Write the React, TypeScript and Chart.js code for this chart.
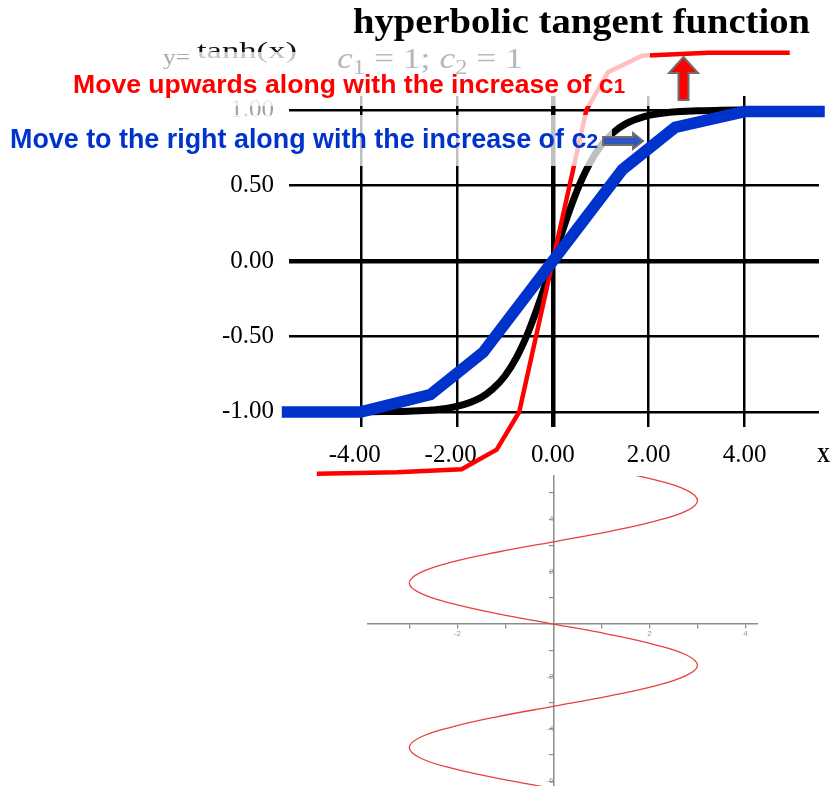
import React, { useEffect, useRef } from 'react';
import { Chart, registerables } from 'chart.js';

Chart.register(...registerables);

const SERIF = '"Liberation Serif", "Times New Roman", serif';
const SANS = '"Liberation Sans", Arial, sans-serif';

// ---- texts ----
const titleText = 'hyperbolic tangent function';
const formulaLead = 'y=';
const formulaMain = 'tanh(x)';
const redNote = 'Move upwards along with the increase of c';
const redNoteSub = '1';
const blueNote = 'Move to the right along with the increase of c';
const blueNoteSub = '2';
const xAxisName = 'X';

// ---- main chart ticks ----
const xTickValues = [-4, -2, 0, 2, 4];
const yTickValues = [-1, -0.5, 0, 0.5, 1];

// ---- main chart series ----
const tanhX = [-4, -3.5, -3, -2.5, -2, -1.5, -1.25, -1, -0.75, -0.5, -0.25, 0, 0.25, 0.5, 0.75, 1, 1.25, 1.5, 2, 2.5, 3, 3.5, 4];
const tanhY = [-1, -0.998, -0.995, -0.987, -0.964, -0.905, -0.848, -0.762, -0.635, -0.462, -0.245, 0, 0.245, 0.462, 0.635, 0.762, 0.848, 0.905, 0.964, 0.987, 0.995, 0.998, 1];

const redX = [-4.92, -3.25, -1.9, -1.17, -0.7, 0.7, 1.15, 1.86, 3.25, 4.94];
const redY = [-1.41, -1.4, -1.38, -1.25, -1.0, 1.0, 1.25, 1.36, 1.38, 1.38];

const blueX = [-5.65, -4, -2.55, -1.45, 0, 1.45, 2.55, 4, 5.67];
const blueY = [-1, -1, -0.885, -0.605, 0, 0.605, 0.885, 0.99, 0.99];

// ---- lower (sideways sine) chart ----
const sineV = [-6.28, -5.89, -5.5, -5.11, -4.71, -4.32, -3.93, -3.53, -3.14, -2.75, -2.36, -1.96, -1.57, -1.18, -0.79, -0.39, 0, 0.39, 0.79, 1.18, 1.57, 1.96, 2.36, 2.75, 3.14, 3.53, 3.93, 4.32, 4.71, 5.11, 5.5, 5.89];
const sineH = [0, -1.15, -2.12, -2.77, -3, -2.77, -2.12, -1.15, 0, 1.15, 2.12, 2.77, 3, 2.77, 2.12, 1.15, 0, -1.15, -2.12, -2.77, -3, -2.77, -2.12, -1.15, 0, 1.15, 2.12, 2.77, 3, 2.77, 2.12, 1.15];
const sineXTicks = [-3, -2, -1, 0, 1, 2, 3, 4];
const sineXLabels = [-2, 2, 4];
const sineYTicks = [-6, -5, -4, -3, -2, -1, 0, 1, 2, 3, 4, 5];
const sineYLabels = [-6, -4, -2, 2, 4];

type Run = { t: string; font: string; dy?: number };

function drawRuns(ctx: CanvasRenderingContext2D, runs: Run[], x: number, y: number, width: number, color: string) {
  ctx.save();
  let total = 0;
  const ws = runs.map((r) => {
    ctx.font = r.font;
    const w = ctx.measureText(r.t).width;
    total += w;
    return w;
  });
  const s = width ? width / total : 1;
  ctx.translate(x, y);
  ctx.scale(s, 1);
  ctx.fillStyle = color;
  ctx.textBaseline = 'alphabetic';
  ctx.textAlign = 'left';
  let cx = 0;
  runs.forEach((r, i) => {
    ctx.font = r.font;
    ctx.fillText(r.t, cx, r.dy || 0);
    cx += ws[i];
  });
  ctx.restore();
}

function polygon(ctx: CanvasRenderingContext2D, pts: number[][], fill: string, stroke: string, lw: number) {
  ctx.save();
  ctx.beginPath();
  pts.forEach((p, i) => (i === 0 ? ctx.moveTo(p[0], p[1]) : ctx.lineTo(p[0], p[1])));
  ctx.closePath();
  ctx.fillStyle = fill;
  ctx.fill();
  ctx.lineWidth = lw;
  ctx.strokeStyle = stroke;
  ctx.lineJoin = 'miter';
  ctx.stroke();
  ctx.restore();
}

const annotationPlugin = {
  id: 'annotations',
  afterDraw(chart: any) {
    const ctx: CanvasRenderingContext2D = chart.ctx;
    // formula (partly faded by the note box)
    drawRuns(ctx, [{ t: formulaMain, font: `24px ${SERIF}` }], 197, 58, 100, '#111');

    // translucent boxes behind the notes
    ctx.save();
    ctx.fillStyle = 'rgba(255,255,255,0.75)';
    ctx.fillRect(60, 52, 590, 54);
    ctx.fillRect(0, 115, 612, 51);
    ctx.restore();

    // title
    drawRuns(ctx, [{ t: titleText, font: `bold 35px ${SERIF}` }], 353, 33, 457, '#000');
    drawRuns(ctx, [{ t: formulaLead, font: `20px ${SERIF}` }], 163, 64, 27, '#a8a8a8');
    drawRuns(
      ctx,
      [
        { t: 'c', font: `italic 29px ${SERIF}` },
        { t: '1', font: `20px ${SERIF}`, dy: 6 },
        { t: ' = 1; ', font: `29px ${SERIF}` },
        { t: 'c', font: `italic 29px ${SERIF}` },
        { t: '2', font: `20px ${SERIF}`, dy: 6 },
        { t: ' = 1', font: `29px ${SERIF}` },
      ],
      337, 68, 186, '#b8b8b8'
    );

    // notes
    drawRuns(ctx, [{ t: redNote, font: `bold 26px ${SANS}` }, { t: redNoteSub, font: `bold 20px ${SANS}` }], 73, 93, 552, '#ff0000');
    drawRuns(ctx, [{ t: blueNote, font: `bold 27px ${SANS}` }, { t: blueNoteSub, font: `bold 21px ${SANS}` }], 10, 148, 588, '#0033cc');

    // arrows
    polygon(ctx, [[683.5, 57], [698, 73], [688.5, 73], [688.5, 100], [678.5, 100], [678.5, 73], [669, 73]], '#ff0000', '#6e6e6e', 2);
    polygon(ctx, [[603, 137], [633, 137], [633, 133], [643, 141], [633, 149], [633, 145], [603, 145]], '#2f55c0', '#6e6e6e', 2);

    // axis name
    drawRuns(ctx, [{ t: xAxisName, font: `bold 21px ${SERIF}` }], 817, 462, 13, '#000');
  },
};

function fmtTick(v: number) {
  const s = Number(v).toFixed(2);
  return v < 0 ? s + '\u2002' : s;
}

export default function App() {
  const mainRef = useRef<HTMLCanvasElement>(null);
  const subRef = useRef<HTMLCanvasElement>(null);

  useEffect(() => {
    const gridWidth = (c: any) => (c.tick && c.tick.value === 0 ? 4.5 : 2.5);
    const main = new Chart(mainRef.current as HTMLCanvasElement, {
      type: 'scatter',
      data: {
        datasets: [
          {
            label: 'tanh',
            data: tanhX.map((x, i) => ({ x, y: tanhY[i] })),
            showLine: true,
            borderColor: '#000',
            borderWidth: 7,
            pointRadius: 0,
            cubicInterpolationMode: 'monotone',
            order: 3,
          },
          {
            label: 'c1',
            data: redX.map((x, i) => ({ x, y: redY[i] })),
            showLine: true,
            borderColor: '#ff0000',
            borderWidth: 4.5,
            pointRadius: 0,
            clip: false,
            order: 2,
          },
          {
            label: 'c2',
            data: blueX.map((x, i) => ({ x, y: blueY[i] })),
            showLine: true,
            borderColor: '#0033cc',
            borderWidth: 11.5,
            pointRadius: 0,
            clip: false,
            order: 1,
          },
        ],
      } as any,
      options: {
        animation: false,
        responsive: false,
        events: [],
        layout: { padding: { top: 96, right: 17, left: 0, bottom: 0 } },
        plugins: { legend: { display: false }, tooltip: { enabled: false } },
        scales: {
          x: {
            type: 'linear',
            min: -5.5,
            max: 5.55,
            afterBuildTicks: (s: any) => {
              s.ticks = xTickValues.map((v) => ({ value: v }));
            },
            afterFit: (s: any) => {
              s.height = 53;
            },
            grid: { color: '#000', lineWidth: gridWidth, drawTicks: false },
            border: { display: false },
            ticks: {
              font: { family: SERIF, size: 25 },
              color: '#000',
              padding: 13,
              maxRotation: 0,
              autoSkip: false,
              callback: (v: any) => fmtTick(Number(v)),
            },
          },
          y: {
            type: 'linear',
            min: -1.1,
            max: 1.093,
            afterBuildTicks: (s: any) => {
              s.ticks = yTickValues.map((v) => ({ value: v }));
            },
            afterFit: (s: any) => {
              s.width = 289;
            },
            grid: { color: '#000', lineWidth: gridWidth, drawTicks: false },
            border: { display: false },
            ticks: {
              font: { family: SERIF, size: 25 },
              color: (c: any) => (c.tick && c.tick.value === 1 ? '#a0a0a0' : '#000'),
              padding: 15,
              callback: (v: any) => Number(v).toFixed(2),
            },
          },
        },
      } as any,
      plugins: [annotationPlugin],
    });

    const sub = new Chart(subRef.current as HTMLCanvasElement, {
      type: 'scatter',
      data: {
        datasets: [
          {
            label: 'sine',
            data: sineV.map((v, i) => ({ x: sineH[i], y: v })),
            showLine: true,
            borderColor: '#e8413c',
            borderWidth: 1.3,
            pointRadius: 0,
            tension: 0.4,
          },
        ],
      } as any,
      options: {
        animation: false,
        responsive: false,
        events: [],
        layout: { padding: { top: 6, bottom: 6, left: 28, right: 12 } },
        plugins: { legend: { display: false }, tooltip: { enabled: false } },
        scales: {
          x: {
            type: 'linear',
            min: -3.86,
            max: 4.26,
            position: { y: 0 },
            afterBuildTicks: (s: any) => {
              s.ticks = sineXTicks.map((v) => ({ value: v }));
            },
            grid: { drawOnChartArea: false, color: '#8c8c8c', tickLength: 4, lineWidth: 1.2 },
            border: { color: '#8c8c8c', width: 1.5 },
            ticks: {
              font: { family: SANS, size: 8 },
              color: '#999',
              padding: 1,
              maxRotation: 0,
              autoSkip: false,
              callback: (v: any) => (sineXLabels.includes(Number(v)) ? String(v) : ''),
            },
          },
          y: {
            type: 'linear',
            min: -6.18,
            max: 5.65,
            position: { x: 0 },
            afterBuildTicks: (s: any) => {
              s.ticks = sineYTicks.map((v) => ({ value: v }));
            },
            grid: { drawOnChartArea: false, color: '#8c8c8c', tickLength: 4, lineWidth: 1.2 },
            border: { color: '#8c8c8c', width: 1.5 },
            ticks: {
              font: { family: SANS, size: 8 },
              color: '#999',
              padding: 1,
              autoSkip: false,
              callback: (v: any) => (sineYLabels.includes(Number(v)) ? String(v) : ''),
            },
          },
        },
      } as any,
    });

    return () => {
      main.destroy();
      sub.destroy();
    };
  }, []);

  return (
    <div style={{ position: 'fixed', left: 0, top: 0, width: 836, height: 786, overflow: 'hidden', background: '#fff' }}>
      <canvas ref={mainRef} width={836} height={480} style={{ position: 'absolute', left: 0, top: 0 }} />
      <canvas ref={subRef} width={430} height={322} style={{ position: 'absolute', left: 340, top: 470 }} />
    </div>
  );
}
